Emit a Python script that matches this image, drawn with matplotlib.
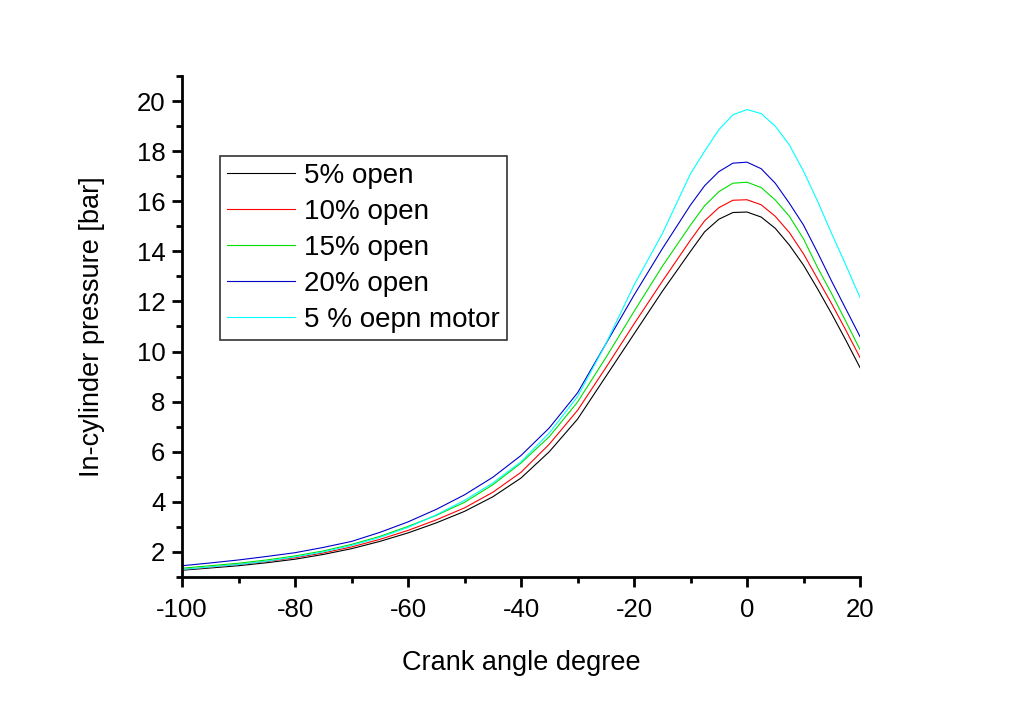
import matplotlib
matplotlib.use("Agg")
import matplotlib.pyplot as plt
from matplotlib.ticker import MultipleLocator

plt.rcParams['font.family'] = ['Liberation Sans', 'DejaVu Sans']
plt.rcParams['axes.unicode_minus'] = False

crank_angle = [-100, -95, -90, -85, -80, -75, -70, -65, -60, -55, -50, -45, -40, -35,
               -30, -25, -20, -15, -10, -7.5, -5, -2.5, 0, 2.5, 5, 7.5, 10, 12.5,
               15, 17.5, 20]

open_5 = [1.27, 1.36, 1.45, 1.57, 1.71, 1.9, 2.13, 2.42, 2.76, 3.16, 3.62, 4.2, 4.95, 6.0,
          7.3, 9.0, 10.7, 12.4, 14.0, 14.78, 15.28, 15.55, 15.57, 15.37, 14.92, 14.25, 13.45,
          12.5, 11.5, 10.45, 9.36]
open_10 = [1.3, 1.39, 1.5, 1.62, 1.77, 1.96, 2.2, 2.5, 2.86, 3.28, 3.76, 4.38, 5.18, 6.3,
           7.65, 9.35, 11.1, 12.8, 14.45, 15.22, 15.74, 16.04, 16.06, 15.86, 15.4, 14.75, 13.9,
           12.9, 11.9, 10.85, 9.76]
open_15 = [1.35, 1.45, 1.55, 1.68, 1.84, 2.04, 2.3, 2.62, 3.02, 3.46, 3.98, 4.68, 5.55, 6.6,
           7.98, 9.75, 11.6, 13.4, 15.05, 15.82, 16.38, 16.72, 16.76, 16.55, 16.05, 15.4, 14.5,
           13.35, 12.3, 11.2, 10.08]
open_20 = [1.45, 1.56, 1.68, 1.82, 1.97, 2.18, 2.42, 2.78, 3.2, 3.7, 4.28, 4.98, 5.85, 6.95,
           8.35, 10.3, 12.25, 14.1, 15.85, 16.62, 17.18, 17.52, 17.56, 17.3, 16.72, 15.92, 15.05,
           13.95, 12.8, 11.7, 10.6]
motor_5 = [1.3, 1.4, 1.5, 1.63, 1.8, 2.0, 2.26, 2.58, 2.98, 3.48, 4.06, 4.75, 5.6, 6.75,
           8.2, 10.3, 12.65, 14.7, 17.1, 18.0, 18.85, 19.45, 19.66, 19.5, 19.0, 18.25, 17.2,
           16.0, 14.7, 13.45, 12.16]

labels = ['5% open', '10% open', '15% open', '20% open', '5 % oepn motor']
colors = ['#000000', '#FF0000', '#00E000', '#0000CC', '#00FFFF']
series = [open_5, open_10, open_15, open_20, motor_5]

fig = plt.figure(figsize=(10.25, 7.01), dpi=100)
ax = fig.add_axes([182/1025, 1 - 577/701, (860-182)/1025, (577-76)/701])

for y, c, lab in zip(series, colors, labels):
    ax.plot(crank_angle, y, color=c, lw=0.8, label=lab)

ax.set_xlim(-100, 20)
ax.set_ylim(1, 21)
ax.xaxis.set_major_locator(MultipleLocator(20))
ax.xaxis.set_minor_locator(MultipleLocator(10))
ax.yaxis.set_minor_locator(MultipleLocator(1))
ax.set_yticks([2, 4, 6, 8, 10, 12, 14, 16, 18, 20])

for s in ['top', 'right']:
    ax.spines[s].set_visible(False)
for s in ['left', 'bottom']:
    ax.spines[s].set_linewidth(2.0)

ax.tick_params(which='major', direction='out', length=7, width=2, labelsize=18.5)
ax.tick_params(axis='x', which='major', pad=8)
ax.tick_params(axis='y', which='major', pad=5)
ax.tick_params(which='minor', direction='out', length=4, width=2)

ax.set_xlabel('Crank angle degree', fontsize=19.5, labelpad=20)
ax.set_ylabel('In-cylinder pressure [bar]', fontsize=19.5, labelpad=23)

leg = ax.legend(loc='upper left', bbox_to_anchor=(0.056, 0.84), fontsize=20,
                frameon=True, fancybox=False, shadow=False, borderpad=0.25,
                handlelength=2.45, handletextpad=0.33, labelspacing=0.36,
                borderaxespad=0)
leg.get_frame().set_edgecolor('black')
leg.get_frame().set_linewidth(1.2)

fig.savefig('out.png', dpi=100)
